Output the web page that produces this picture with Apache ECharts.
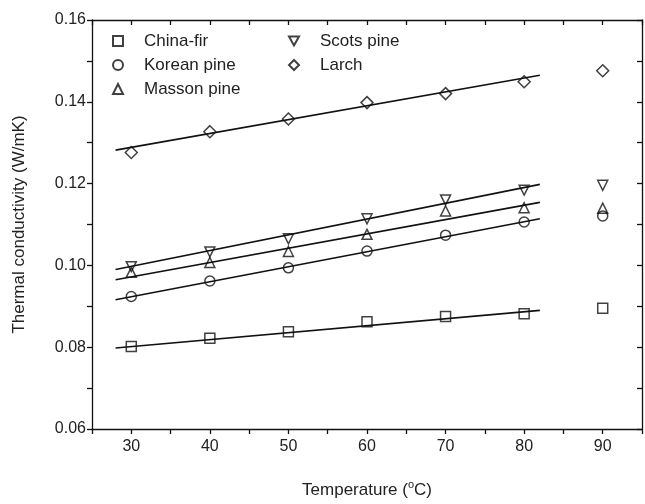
<!DOCTYPE html>
<html>
<head>
<meta charset="utf-8">
<script src="https://cdn.jsdelivr.net/npm/echarts@6/dist/echarts.min.js"></script>
<style>
html,body{margin:0;padding:0;background:#fff;overflow:hidden;width:645px;height:504px;}
#chart{position:absolute;left:0;top:0;width:645px;height:504px;overflow:hidden;}
</style>
</head>
<body>
<div id="chart"></div>
<script>
// Temperatures (°C)
const temps = [30, 40, 50, 60, 70, 80, 90];
// Thermal conductivity (W/mK)
const chinaFir   = [0.0802, 0.0822, 0.0838, 0.0862, 0.0875, 0.0882, 0.0895];
const koreanPine = [0.0924, 0.0962, 0.0994, 0.1035, 0.1074, 0.1106, 0.1121];
const massonPine = [0.0983, 0.1007, 0.1034, 0.1076, 0.1133, 0.1141, 0.1140];
const scotsPine  = [0.0997, 0.1033, 0.1065, 0.1114, 0.1160, 0.1184, 0.1196];
const larch      = [0.1276, 0.1327, 0.1358, 0.1398, 0.1420, 0.1449, 0.1476];
// Fitted line endpoints at x = fitX
const fitX = [28, 82];
const fitChinaFir   = [0.0798, 0.0890];
const fitKoreanPine = [0.0916, 0.1114];
const fitMassonPine = [0.0965, 0.1154];
const fitScotsPine  = [0.0990, 0.1198];
const fitLarch      = [0.1282, 0.1465];
// Axis tick labels
const xTicks = [30, 40, 50, 60, 70, 80, 90];
const yTicks = ['0.06', '0.08', '0.10', '0.12', '0.14', '0.16'];

const names = ['China-fir', 'Korean pine', 'Masson pine', 'Scots pine', 'Larch'];
const values = [chinaFir, koreanPine, massonPine, scotsPine, larch];
const fits = [fitChinaFir, fitKoreanPine, fitMassonPine, fitScotsPine, fitLarch];
const symbols = ['rect', 'circle', 'triangle', 'path://M0,0 L10,0 L5,9 Z', 'diamond'];
const sizes = [10, 10, 10, 10, 12];

const txt = '#222';
const font = 'Liberation Sans, Arial, sans-serif';

const series = [];
fits.forEach((f, i) => {
  series.push({
    type: 'line',
    data: fitX.map((x, k) => [x, f[k]]),
    showSymbol: false,
    symbol: 'none',
    lineStyle: {color: '#111', width: 1.7},
    silent: true,
    z: 2
  });
});
names.forEach((n, i) => {
  series.push({
    name: n,
    type: 'scatter',
    data: temps.map((t, k) => [t, values[i][k]]),
    symbol: symbols[i],
    symbolSize: sizes[i],
    itemStyle: {color: 'rgba(255,255,255,0)', borderColor: '#111', borderWidth: 1.5},
    z: 3
  });
});

const legendCommon = {
  orient: 'vertical',
  itemWidth: 10,
  itemHeight: 10,
  itemGap: 6,
  textStyle: {fontSize: 17, color: txt, fontFamily: font, padding: [0, 0, 0, 16], lineHeight: 18}
};

const chart = echarts.init(document.getElementById('chart'), null, {width: 645, height: 504});
chart.setOption({
  animation: false,
  backgroundColor: '#fff',
  grid: {left: 92, top: 20, width: 555, height: 413},
  legend: [
    Object.assign({}, legendCommon, {data: names.slice(0, 3), left: 107, top: 27}),
    Object.assign({}, legendCommon, {data: names.slice(3), left: 283, top: 27})
  ],
  xAxis: [{
    type: 'value', min: 25, max: 95, interval: 5,
    name: '{a|Temperature (}{s|o}{a|C)}',
    nameLocation: 'middle', nameGap: 50,
    nameTextStyle: {
      fontSize: 17, color: txt, fontFamily: font,
      rich: {
        a: {fontSize: 17, color: txt, fontFamily: font, verticalAlign: 'bottom', lineHeight: 20},
        s: {fontSize: 11, color: txt, fontFamily: font, verticalAlign: 'top', lineHeight: 20, padding: [0, 0, 8, 0]}
      }
    },
    axisLine: {lineStyle: {color: '#111', width: 1.3}},
    axisTick: {show: true, inside: false, length: 5, lineStyle: {color: '#111', width: 1.3}},
    axisLabel: {
      fontSize: 16, color: txt, fontFamily: font, margin: 10,
      formatter: v => (xTicks.indexOf(v) >= 0 ? String(v) : '')
    },
    splitLine: {show: false}
  }, {
    type: 'value', min: 25, max: 95, interval: 5, position: 'top',
    axisLine: {lineStyle: {color: '#111', width: 1.3}},
    axisTick: {show: true, inside: true, length: 5, lineStyle: {color: '#111', width: 1.3}},
    axisLabel: {show: false},
    splitLine: {show: false}
  }],
  yAxis: [{
    type: 'value', min: 0.06, max: 0.16, interval: 0.01,
    name: 'Thermal conductivity (W/mK)',
    nameLocation: 'middle', nameGap: 64,
    nameTextStyle: {fontSize: 17, color: txt, fontFamily: font},
    axisLine: {show: true, lineStyle: {color: '#111', width: 1.3}},
    axisTick: {show: true, inside: false, length: 5, lineStyle: {color: '#111', width: 1.3}},
    axisLabel: {
      fontSize: 16, color: txt, fontFamily: font, margin: 6,
      formatter: v => { const s = (Math.round(v * 100) / 100).toFixed(2); return yTicks.indexOf(s) >= 0 && Math.abs(v * 100 - Math.round(v * 100)) < 1e-6 ? s : ''; }
    },
    splitLine: {show: false}
  }, {
    type: 'value', min: 0.06, max: 0.16, interval: 0.01, position: 'right',
    axisLine: {show: true, lineStyle: {color: '#111', width: 1.3}},
    axisTick: {show: true, inside: true, length: 5, lineStyle: {color: '#111', width: 1.3}},
    axisLabel: {show: false},
    splitLine: {show: false}
  }],
  series: series
});
</script>
</body>
</html>
